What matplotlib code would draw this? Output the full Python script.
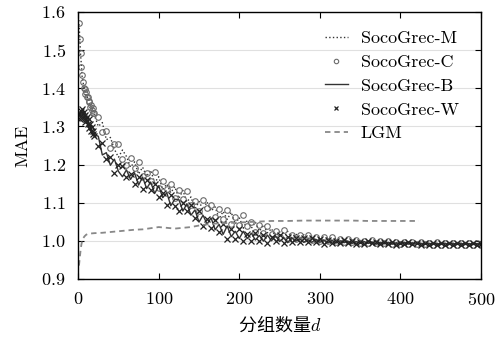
import matplotlib
matplotlib.use("Agg")
import matplotlib.pyplot as plt

# number of groups d
d = list(range(1, 21)) + list(range(25, 501, 5))

soco_m = [1.568, 1.535, 1.488, 1.462, 1.428, 1.420, 1.398, 1.402, 1.384, 1.383,
          1.381, 1.371, 1.372, 1.359, 1.360, 1.349, 1.350, 1.340, 1.341, 1.330,
          1.300, 1.310, 1.265, 1.271, 1.240, 1.219, 1.238, 1.221, 1.193, 1.207,
          1.175, 1.193, 1.169, 1.185, 1.152, 1.168, 1.134, 1.149, 1.126, 1.142,
          1.111, 1.132, 1.102, 1.115, 1.083, 1.103, 1.082, 1.102, 1.078, 1.089,
          1.058, 1.077, 1.056, 1.075, 1.044, 1.061, 1.033, 1.054, 1.033, 1.049,
          1.025, 1.042, 1.021, 1.032, 1.010, 1.024, 1.008, 1.025, 1.008, 1.019,
          1.005, 1.016, 1.004, 1.012, 0.999, 1.009, 0.999, 1.010, 1.000, 1.007,
          0.998, 1.004, 0.998, 1.002, 0.995, 1.001, 0.996, 1.001, 0.994, 0.998,
          0.994, 0.999, 0.992, 0.997, 0.993, 0.997, 0.992, 0.997, 0.991, 0.995,
          0.991, 0.996, 0.991, 0.995, 0.990, 0.994, 0.990, 0.995, 0.990, 0.994,
          0.990, 0.994, 0.991, 0.994, 0.990, 0.994]

soco_c = [1.572, 1.528, 1.493, 1.455, 1.434, 1.416, 1.401, 1.398, 1.386, 1.389,
          1.377, 1.378, 1.366, 1.364, 1.352, 1.355, 1.343, 1.347, 1.334, 1.336,
          1.325, 1.284, 1.289, 1.243, 1.255, 1.253, 1.214, 1.199, 1.217, 1.192,
          1.207, 1.170, 1.179, 1.158, 1.181, 1.139, 1.158, 1.137, 1.149, 1.113,
          1.133, 1.110, 1.130, 1.093, 1.105, 1.079, 1.107, 1.085, 1.093, 1.063,
          1.084, 1.058, 1.080, 1.045, 1.063, 1.042, 1.068, 1.039, 1.049, 1.023,
          1.042, 1.020, 1.039, 1.017, 1.026, 1.009, 1.028, 1.006, 1.016, 1.005,
          1.016, 1.005, 1.016, 1.002, 1.009, 0.999, 1.009, 1.000, 1.009, 0.998,
          1.005, 0.997, 1.005, 0.997, 1.002, 0.994, 1.000, 0.994, 1.001, 0.994,
          0.999, 0.994, 0.999, 0.992, 0.997, 0.991, 0.997, 0.992, 0.997, 0.991,
          0.996, 0.991, 0.995, 0.990, 0.996, 0.990, 0.994, 0.990, 0.995, 0.990,
          0.994, 0.990, 0.995, 0.990, 0.994, 0.991]

soco_b = [1.338, 1.325, 1.332, 1.340, 1.330, 1.337, 1.322, 1.333, 1.316, 1.325,
          1.308, 1.316, 1.300, 1.305, 1.292, 1.296, 1.283, 1.287, 1.276, 1.279,
          1.274, 1.225, 1.231, 1.198, 1.214, 1.182, 1.168, 1.186, 1.161, 1.178,
          1.146, 1.167, 1.137, 1.154, 1.124, 1.144, 1.113, 1.126, 1.092, 1.109,
          1.108, 1.078, 1.097, 1.067, 1.081, 1.049, 1.067, 1.044, 1.060, 1.029,
          1.043, 1.017, 1.039, 1.011, 1.025, 1.006, 1.025, 1.006, 1.020, 1.002,
          1.014, 0.999, 1.015, 1.000, 1.013, 0.998, 1.008, 0.995, 1.008, 0.999,
          1.005, 0.996, 1.003, 0.996, 1.004, 0.996, 1.002, 0.994, 1.001, 0.994,
          1.000, 0.995, 0.999, 0.993, 0.998, 0.993, 0.998, 0.993, 0.997, 0.991,
          0.996, 0.992, 0.996, 0.991, 0.995, 0.991, 0.996, 0.991, 0.995, 0.991,
          0.994, 0.990, 0.994, 0.990, 0.994, 0.990, 0.994, 0.990, 0.994, 0.990,
          0.994, 0.990, 0.993, 0.990, 0.993, 0.990]

soco_w = [1.332, 1.318, 1.340, 1.328, 1.345, 1.322, 1.338, 1.312, 1.330, 1.318,
          1.325, 1.305, 1.318, 1.296, 1.307, 1.288, 1.298, 1.280, 1.288, 1.275,
          1.248, 1.257, 1.215, 1.220, 1.178, 1.198, 1.197, 1.166, 1.175, 1.149,
          1.168, 1.135, 1.160, 1.133, 1.149, 1.115, 1.125, 1.095, 1.119, 1.091,
          1.079, 1.100, 1.077, 1.093, 1.059, 1.077, 1.040, 1.058, 1.033, 1.054,
          1.024, 1.043, 1.006, 1.030, 1.006, 1.030, 0.999, 1.018, 1.000, 1.021,
          1.000, 1.016, 0.994, 1.011, 1.000, 1.015, 0.994, 1.011, 0.996, 1.007,
          0.996, 1.008, 0.996, 1.007, 0.996, 1.004, 0.991, 1.002, 0.993, 1.000,
          0.994, 1.001, 0.994, 0.999, 0.992, 0.997, 0.992, 0.999, 0.993, 0.997,
          0.992, 0.997, 0.991, 0.996, 0.990, 0.995, 0.991, 0.996, 0.991, 0.995,
          0.990, 0.994, 0.989, 0.994, 0.990, 0.995, 0.990, 0.994, 0.990, 0.994,
          0.990, 0.994, 0.990, 0.993, 0.989, 0.992]

lgm_d = [1, 2, 3, 4, 5, 6, 8, 10, 12, 15, 20, 30, 40, 50, 60, 70, 80, 90, 100,
         110, 120, 130, 140, 150, 160, 170, 180, 190, 200, 210, 220, 230, 240,
         260, 280, 300, 320, 340, 360, 380, 400, 423]
lgm = [0.935, 0.955, 0.975, 0.990, 1.000, 1.006, 1.012, 1.016, 1.018, 1.019,
       1.020, 1.021, 1.023, 1.025, 1.027, 1.029, 1.030, 1.033, 1.036, 1.034,
       1.032, 1.034, 1.036, 1.040, 1.043, 1.045, 1.046, 1.047, 1.048, 1.049,
       1.050, 1.051, 1.052, 1.052, 1.053, 1.053, 1.053, 1.053, 1.052, 1.052,
       1.052, 1.052]

plt.rcParams["font.family"] = ["cmr10", "DejaVu Serif"]
plt.rcParams["mathtext.fontset"] = "cm"
plt.rcParams["axes.formatter.use_mathtext"] = True
plt.rcParams["font.size"] = 13

fig = plt.figure(figsize=(5.01, 3.41), dpi=100)
ax = fig.add_axes([0.156, 0.182, 0.804, 0.783])

ax.plot(d, soco_m, linestyle=":", color="#333333", linewidth=1.0, label="SocoGrec-M")
ax.plot(d, soco_c, linestyle="none", marker="o", markersize=4.0,
        markerfacecolor="none", markeredgecolor="#6a6a6a", markeredgewidth=0.8,
        label="SocoGrec-C")
ax.plot(d, soco_b, linestyle="-", color="#333333", linewidth=1.0, label="SocoGrec-B")
ax.plot(d, soco_w, linestyle="none", marker="x", markersize=4.0,
        color="#222222", markeredgewidth=0.9, label="SocoGrec-W")
ax.plot(lgm_d, lgm, linestyle=(0, (3.0, 2.2)), color="#888888", linewidth=1.3,
        label="LGM")

ax.set_xlim(0, 500)
ax.set_ylim(0.9, 1.6)
ax.set_xticks([0, 100, 200, 300, 400, 500])
ax.set_yticks([0.9, 1.0, 1.1, 1.2, 1.3, 1.4, 1.5, 1.6])
ax.yaxis.grid(True, color="#e0e0e0", linewidth=0.8)
ax.set_axisbelow(True)
ax.tick_params(direction="in", top=True, right=True, length=4, labelsize=13)
ax.tick_params(axis="x", pad=9)
ax.tick_params(axis="y", pad=9)
for s in ax.spines.values():
    s.set_linewidth(1.0)

ax.set_xlabel("分组数量$d$", family=["Noto Sans CJK SC", "DejaVu Sans"],
              fontsize=13, labelpad=4)
ax.set_ylabel("MAE", fontsize=13, labelpad=8)

ax.legend(loc="upper right", frameon=False, fontsize=13, handlelength=1.3,
          handletextpad=0.7, labelspacing=0.45, borderpad=0, borderaxespad=0,
          bbox_to_anchor=(0.945, 0.93), markerscale=0.8)

fig.savefig("out.png", dpi=100)
